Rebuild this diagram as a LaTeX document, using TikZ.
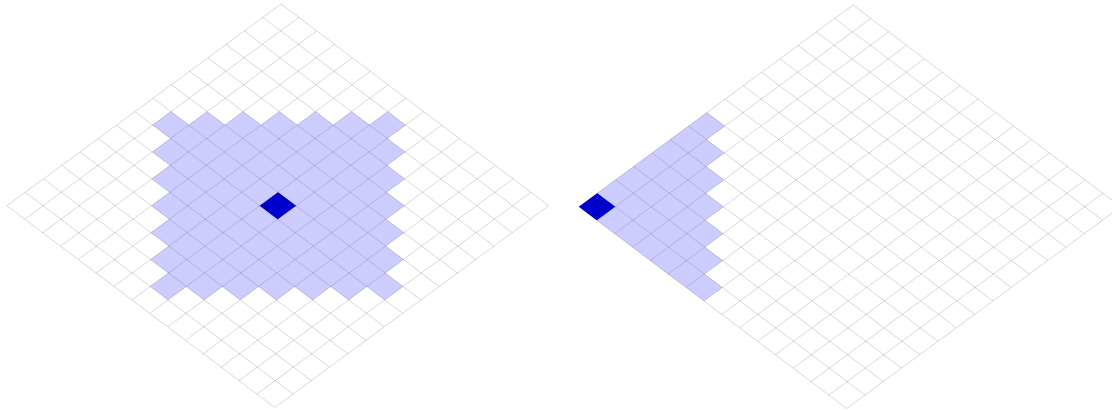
\documentclass[tikz,border=0pt]{standalone}
\usepackage{amsmath,amssymb}
\usepackage{tikz}

\tikzset{
  cellline/.style={draw=black,draw opacity=0.16,line width=0.6pt},
  reach/.style={fill=blue!20},
  piece/.style={fill=blue!80!black},
}
% one square of the board, lower corner (i,j)
\newcommand{\boardcell}[3]{\fill[#3] (#1,#2) -- ++(1,0) -- ++(0,1) -- ++(-1,0) -- cycle;}

\begin{document}
\begin{tikzpicture}[x={(17.85pt,-13.45pt)},y={(-18.27pt,-13.45pt)}]
\clip (0pt,0pt) rectangle (1112pt,-411pt);

% left board, piece in the middle
\begin{scope}[shift={(281pt,-4pt)}]
\foreach \i in {0,...,14}
  \foreach \j in {0,...,14}{
    \pgfmathtruncatemacro{\dd}{abs(\i-\j)}
    \pgfmathtruncatemacro{\ss}{abs(\i+\j-14)}
    \ifnum\dd<7 \ifnum\ss<7 \boardcell{\i}{\j}{reach}\fi\fi
  }
\foreach \k in {0,...,15}{
  \draw[cellline] (\k,0) -- (\k,15);
  \draw[cellline] (0,\k) -- (15,\k);
}
\boardcell{7}{7}{piece}
\end{scope}

% right board, piece on the corner
\begin{scope}[shift={(853pt,-5pt)}]
\foreach \i in {0,...,14}
  \foreach \j in {0,...,14}{
    \pgfmathtruncatemacro{\dd}{\j-\i}
    \pgfmathtruncatemacro{\ss}{abs(\i+\j-14)}
    \ifnum\dd>7 \ifnum\ss<7 \boardcell{\i}{\j}{reach}\fi\fi
  }
\foreach \k in {0,...,15}{
  \draw[cellline] (\k,0) -- (\k,15);
  \draw[cellline] (0,\k) -- (15,\k);
}
\boardcell{0}{14}{piece}
\end{scope}
\end{tikzpicture}
\end{document}
